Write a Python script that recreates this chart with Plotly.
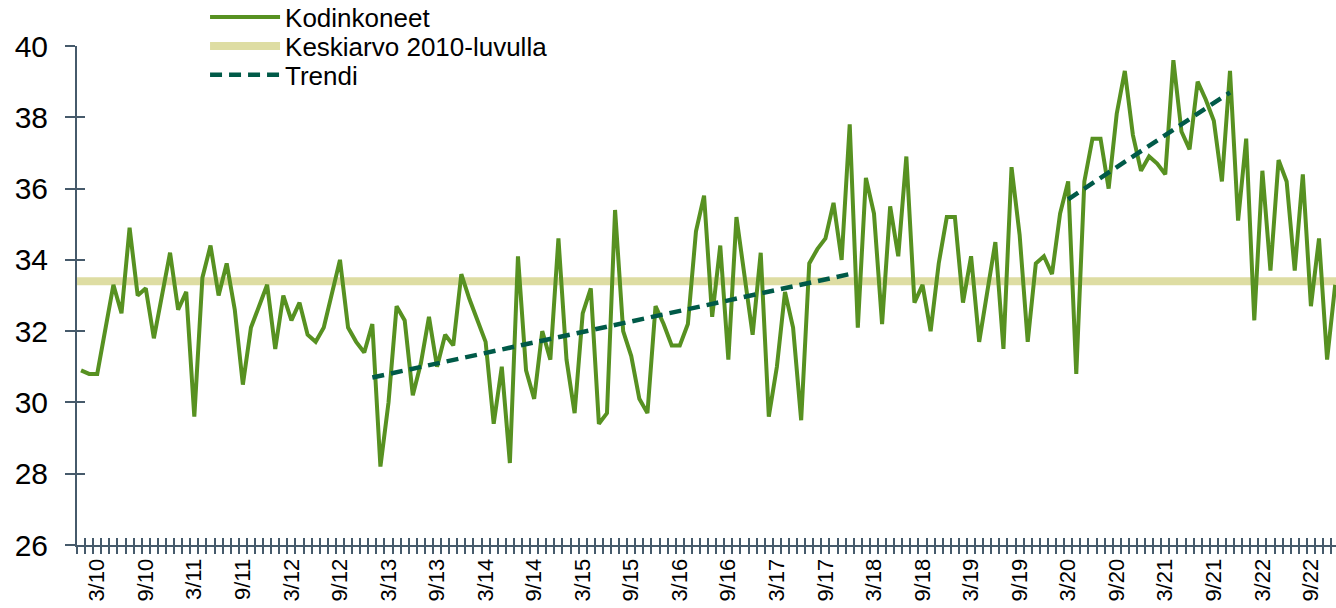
import plotly.graph_objects as go

# ---- data -------------------------------------------------------------
years = list(range(2010, 2023))
kodinkoneet = [
    # 2010
    30.9, 30.8, 30.8, 32.0, 33.3, 32.5, 34.9, 33.0, 33.2, 31.8, 33.0, 34.2,
    # 2011
    32.6, 33.1, 29.6, 33.5, 34.4, 33.0, 33.9, 32.6, 30.5, 32.1, 32.7, 33.3,
    # 2012
    31.5, 33.0, 32.3, 32.8, 31.9, 31.7, 32.1, 33.0, 34.0, 32.1, 31.7, 31.4,
    # 2013
    32.2, 28.2, 30.0, 32.7, 32.3, 30.2, 31.1, 32.4, 31.0, 31.9, 31.6, 33.6,
    # 2014
    32.9, 32.3, 31.7, 29.4, 31.0, 28.3, 34.1, 30.9, 30.1, 32.0, 31.2, 34.6,
    # 2015
    31.2, 29.7, 32.5, 33.2, 29.4, 29.7, 35.4, 32.0, 31.3, 30.1, 29.7, 32.7,
    # 2016
    32.2, 31.6, 31.6, 32.2, 34.8, 35.8, 32.4, 34.4, 31.2, 35.2, 33.5, 31.9,
    # 2017
    34.2, 29.6, 31.0, 33.1, 32.1, 29.5, 33.9, 34.3, 34.6, 35.6, 34.0, 37.8,
    # 2018
    32.1, 36.3, 35.3, 32.2, 35.5, 34.1, 36.9, 32.8, 33.3, 32.0, 33.9, 35.2,
    # 2019
    35.2, 32.8, 34.1, 31.7, 33.1, 34.5, 31.5, 36.6, 34.7, 31.7, 33.9, 34.1,
    # 2020
    33.6, 35.3, 36.2, 30.8, 36.2, 37.4, 37.4, 36.0, 38.1, 39.3, 37.5, 36.5,
    # 2021
    36.9, 36.7, 36.4, 39.6, 37.6, 37.1, 39.0, 38.5, 37.9, 36.2, 39.3, 35.1,
    # 2022
    37.4, 32.3, 36.5, 33.7, 36.8, 36.2, 33.7, 36.4, 32.7, 34.6, 31.2, 33.3,
]
keskiarvo = 33.4

# trend segments (month index 0 = 1/2010)
trend1_idx = [36, 95]      # 1/2013 .. 12/2017
trend1_val = [30.7, 33.6]
trend2_idx = [122, 142]    # 3/2020 .. 11/2021
trend2_val = [35.7, 38.7]

tick_idx = []
tick_text = []
for y in years:
    for mo in (3, 9):
        tick_idx.append((y - 2010) * 12 + mo - 1)
        tick_text.append(f"{mo}/{str(y)[2:]}")

y_ticks = [26, 28, 30, 32, 34, 36, 38, 40]

# ---- figure -----------------------------------------------------------
n = len(kodinkoneet)
idx = list(range(n))
GREEN = "#579121"
KHAKI = "#DEDDA3"
TEAL = "#005A48"
AXIS = "#465A6B"
FONT = "Liberation Sans, Arial, sans-serif"
XR = [-0.5, 155.1]
YR = [26, 40]

fig = go.Figure()
fig.add_trace(go.Scatter(
    x=[idx[0] - 0.5, idx[-1] + 0.5], y=[keskiarvo, keskiarvo],
    mode="lines", name="Keskiarvo 2010-luvulla",
    line=dict(color=KHAKI, width=8), legend="legend2", hoverinfo="skip"))
fig.add_trace(go.Scatter(
    x=idx, y=kodinkoneet, mode="lines", name="Kodinkoneet",
    line=dict(color=GREEN, width=4), legend="legend"))
fig.add_trace(go.Scatter(
    x=trend1_idx, y=trend1_val, mode="lines", name="Trendi",
    line=dict(color=TEAL, width=4.5, dash="12px,7px"),
    legend="legend3", xaxis="x2", yaxis="y2"))
fig.add_trace(go.Scatter(
    x=trend2_idx, y=trend2_val, mode="lines", name="Trendi",
    line=dict(color=TEAL, width=4.5, dash="12px,7px"),
    showlegend=False, xaxis="x2", yaxis="y2"))

leg_common = dict(x=0.1017, xanchor="left", yanchor="middle",
                  font=dict(size=26, family=FONT, color="black"),
                  bgcolor="rgba(0,0,0,0)", itemwidth=70, borderwidth=0)

fig.update_layout(
    width=1336, height=608,
    margin=dict(l=77, r=0, t=46, b=63, autoexpand=False),
    paper_bgcolor="white", plot_bgcolor="white",
    font=dict(family=FONT, color="black"),
    showlegend=True,
    legend=dict(y=1.058, **leg_common),
    legend2=dict(y=1.0, **leg_common),
    legend3=dict(y=0.942, **leg_common),
    xaxis=dict(range=XR, showgrid=False, zeroline=False,
               showline=True, linecolor=AXIS, linewidth=2,
               tickmode="array", tickvals=tick_idx, ticktext=tick_text,
               ticks="", tickangle=-90,
               tickfont=dict(size=22, family=FONT, color="black"),
               ticklabelstandoff=3,
               minor=dict(ticks="outside", tick0=-0.5, dtick=1,
                          ticklen=7, tickwidth=2, tickcolor=AXIS)),
    yaxis=dict(range=YR, showgrid=False, zeroline=False,
               showline=True, linecolor=AXIS, linewidth=2,
               tickmode="array", tickvals=y_ticks,
               ticks="outside", ticklen=10, tickwidth=2, tickcolor=AXIS,
               tickfont=dict(size=30, family=FONT, color="black"),
               ticklabelstandoff=11),
    xaxis2=dict(range=XR, overlaying="x", anchor="y2", showgrid=False,
                zeroline=False, showline=False, showticklabels=False,
                tickmode="linear", tick0=-0.5, dtick=1,
                ticks="inside", ticklen=7, tickwidth=2, tickcolor=AXIS),
    yaxis2=dict(range=YR, overlaying="y", anchor="x2", showgrid=False,
                zeroline=False, showline=False, showticklabels=False,
                tickmode="array", tickvals=y_ticks,
                ticks="inside", ticklen=8, tickwidth=2, tickcolor=AXIS),
)

# remove the default page margin so the figure fills the window exactly
fig.write_html(
    "out.html",
    config={"displayModeBar": False},
    post_script="document.body.style.margin='0';"
                "document.body.style.overflow='hidden';",
)
